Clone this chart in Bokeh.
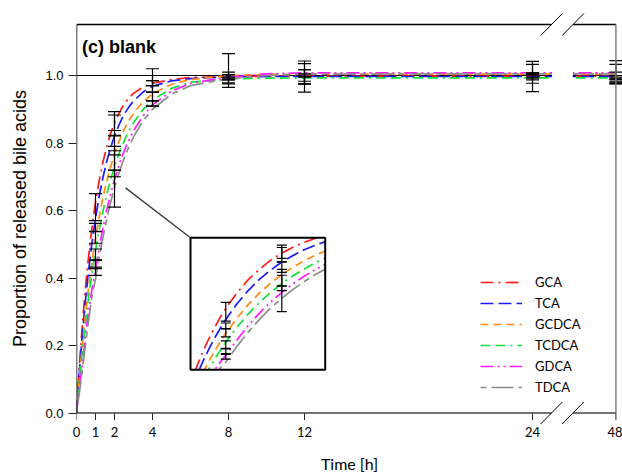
import numpy as np
from bokeh.plotting import figure
from bokeh.models import (ColumnDataSource, Range1d, FixedTicker, CustomJSTickFormatter,
                          NumeralTickFormatter, CustomJSTransform, Label, Legend, LegendItem)
from bokeh.transform import transform
from bokeh.embed import file_html
from bokeh.resources import INLINE

# ---------------- data ----------------
COMPOUNDS = ["GCA", "TCA", "GCDCA", "TCDCA", "GDCA", "TDCA"]
COLORS = ["#ff1a1a", "#1a1aff", "#ff8a14", "#14e03c", "#ff1aff", "#8c8c8c"]
DASHES = ["13 5 2 5", "13 5", "8 5", "10 5 10 5 2 5", "13 4 2 4 2 4", "6 5 22 5"]

# fitted release curves
T = [0, 0.1, 0.2, 0.3, 0.4, 0.5, 0.6, 0.7, 0.8, 0.9, 1.0, 1.2, 1.4, 1.6, 1.8, 2.0,
     2.2, 2.4, 2.6, 2.8, 3.0, 3.5, 4, 5, 6, 8, 10, 12, 24, 48]
GCA = [0, 0.093, 0.178, 0.255, 0.324, 0.387, 0.445, 0.496, 0.543, 0.586, 0.625, 0.690,
       0.746, 0.790, 0.829, 0.859, 0.884, 0.905, 0.922, 0.936, 0.947, 0.966, 0.977,
       0.988, 0.994, 0.997, 0.998, 0.998, 0.998, 0.998]
TCA = [0, 0.082, 0.158, 0.227, 0.291, 0.349, 0.403, 0.452, 0.497, 0.539, 0.577, 0.644,
       0.700, 0.747, 0.787, 0.821, 0.849, 0.873, 0.893, 0.910, 0.924, 0.951, 0.968,
       0.984, 0.991, 0.996, 0.997, 0.997, 0.997, 0.997]
GCDCA = [0, 0.070, 0.136, 0.197, 0.253, 0.306, 0.355, 0.400, 0.442, 0.482, 0.518, 0.583,
         0.640, 0.689, 0.731, 0.768, 0.799, 0.827, 0.850, 0.870, 0.888, 0.922, 0.946,
         0.974, 0.988, 1.000, 1.003, 1.004, 1.004, 1.004]
TCDCA = [0, 0.063, 0.123, 0.178, 0.230, 0.279, 0.325, 0.368, 0.408, 0.445, 0.481, 0.544,
         0.600, 0.649, 0.692, 0.730, 0.763, 0.792, 0.818, 0.840, 0.860, 0.899, 0.927,
         0.962, 0.980, 0.990, 0.992, 0.993, 0.993, 0.993]
GDCA = [0, 0.050, 0.095, 0.140, 0.190, 0.240, 0.285, 0.325, 0.362, 0.395, 0.425, 0.490,
        0.551, 0.604, 0.651, 0.692, 0.729, 0.761, 0.789, 0.814, 0.836, 0.880, 0.913,
        0.954, 0.977, 0.995, 1.005, 1.008, 1.008, 1.008]
TDCA = [0, 0.040, 0.080, 0.125, 0.170, 0.215, 0.260, 0.300, 0.340, 0.370, 0.396, 0.463,
        0.523, 0.577, 0.625, 0.667, 0.705, 0.738, 0.768, 0.794, 0.818, 0.865, 0.900,
        0.945, 0.970, 0.991, 1.000, 1.004, 1.005, 1.005]
CURVES = [GCA, TCA, GCDCA, TCDCA, GDCA, TDCA]

# measured means and standard deviations
BAR_T = [1, 2, 4, 8, 12, 24, 48]
GCA_MEAN = [0.610, 0.865, 0.995, 1.000, 0.997, 0.997, 1.000]
GCA_SD = [0.040, 0.028, 0.025, 0.010, 0.046, 0.045, 0.010]
TCA_MEAN = [0.550, 0.852, 0.985, 0.995, 0.990, 1.000, 0.985]
TCA_SD = [0.012, 0.031, 0.015, 0.008, 0.015, 0.008, 0.010]
GCDCA_MEAN = [0.520, 0.800, 0.968, 1.015, 1.005, 1.005, 1.010]
GCDCA_SD = [0.017, 0.023, 0.017, 0.050, 0.030, 0.028, 0.034]
TCDCA_MEAN = [0.470, 0.742, 0.955, 0.990, 0.985, 0.995, 0.985]
TCDCA_SD = [0.016, 0.023, 0.030, 0.012, 0.010, 0.008, 0.004]
GDCA_MEAN = [0.440, 0.710, 0.930, 0.995, 1.007, 1.005, 1.010]
GDCA_SD = [0.012, 0.010, 0.021, 0.008, 0.010, 0.003, 0.023]
TDCA_MEAN = [0.420, 0.700, 0.917, 0.985, 1.000, 1.000, 0.990]
TDCA_SD = [0.012, 0.090, 0.008, 0.010, 0.017, 0.005, 0.010]
MEANS = [GCA_MEAN, TCA_MEAN, GCDCA_MEAN, TCDCA_MEAN, GDCA_MEAN, TDCA_MEAN]
SDS = [GCA_SD, TCA_SD, GCDCA_SD, TCDCA_SD, GDCA_SD, TDCA_SD]

X_TICKS = [0, 1, 2, 4, 8, 12, 24, 48]
Y_TICKS = [0.0, 0.2, 0.4, 0.6, 0.8, 1.0]

# ---------------- broken x axis (24 .. 48 compressed) ----------------
BREAK_AT = 24.0
LATE_SCALE = 4.39 / 24.0


def ax(t):
    return t if t <= BREAK_AT else BREAK_AT + (t - BREAK_AT) * LATE_SCALE


brk = CustomJSTransform(args=dict(b=BREAK_AT, s=LATE_SCALE),
                        func="return x <= b ? x : b + (x - b) * s;",
                        v_func="return xs.map((x) => x <= b ? x : b + (x - b) * s);")

W, H = 622, 475
B_LEFT, B_RIGHT, B_TOP, B_BOTTOM = 76, 0, 11, 50
PX_X, PX_Y = 19.0, 337.5          # pixels per hour / per unit
Y0 = -12.5 / PX_Y                   # frame extends a bit below 0 for break marks
X0, X_END = 0.0, (W - B_LEFT - B_RIGHT) / PX_X
Y1 = Y0 + (H - B_TOP - B_BOTTOM) / PX_Y
Y_TOP = 1.151
GAP = (25.03, 26.12)
SLASH_X = (25.0, 26.13)
SLASH_DX, SLASH_DY = 0.57, 0.0326
TICK_LEN = 7 / PX_Y

# inset placement (main coordinates) and its view window
BOX = dict(left=6.0, right=13.09, bottom=0.128, top=0.519)
VIEW = dict(t0=0.37, t1=2.775, v0=0.363, v1=0.924)
POINTER = (2.58, 0.667)

p = figure(width=W, height=H, output_backend="svg", toolbar_location=None,
           x_range=Range1d(X0, X_END), y_range=Range1d(Y0, Y1),
           min_border_left=B_LEFT, min_border_right=B_RIGHT,
           min_border_top=B_TOP, min_border_bottom=B_BOTTOM)
p.outline_line_color = None
p.grid.visible = False
p.background_fill_color = "white"
p.border_fill_color = "white"

# axes
xa = p.xaxis[0]
xa.ticker = FixedTicker(ticks=[ax(t) for t in X_TICKS])
xa.formatter = CustomJSTickFormatter(args=dict(b=BREAK_AT, s=LATE_SCALE),
                                     code="const t = tick <= b ? tick : b + (tick - b) / s; return String(Math.round(t));")
xa.axis_line_color = None
xa.major_tick_out = 0
xa.major_tick_in = 0
xa.major_tick_line_color = None
xa.minor_tick_line_color = None
xa.major_label_standoff = 1
xa.major_label_text_font = "Lato"
xa.major_label_text_font_size = "13px"
xa.major_label_text_color = "black"
xa.axis_label = "Time [h]"
xa.axis_label_standoff = 14
xa.axis_label_text_font = "Lato"
xa.axis_label_text_font_size = "16px"
xa.axis_label_text_font_style = "normal"
xa.axis_label_text_color = "black"

ya = p.yaxis[0]
ya.ticker = FixedTicker(ticks=Y_TICKS)
ya.formatter = NumeralTickFormatter(format="0.0")
ya.axis_line_color = None
ya.major_tick_out = 8
ya.major_tick_in = 0
ya.minor_tick_line_color = None
ya.major_tick_line_color = "#222222"
ya.major_label_standoff = 5
ya.major_label_text_font = "Liberation Sans"
ya.major_label_text_font_size = "13px"
ya.major_label_text_color = "black"
ya.axis_label = "Proportion of released bile acids"
ya.axis_label_standoff = 12
ya.axis_label_text_font = "Liberation Sans"
ya.axis_label_text_font_size = "18px"
ya.axis_label_text_font_style = "normal"
ya.axis_label_text_color = "black"

# x tick marks (drawn below the axis line, inside the frame)
xt = [ax(t) for t in X_TICKS]
p.segment(x0=xt, y0=[0] * len(xt), x1=xt, y1=[-TICK_LEN] * len(xt),
          line_color="#222222", line_width=1)

# reference line at 1.0
p.segment(x0=[0], y0=[1.0], x1=[ax(48)], y1=[1.0], line_color="black", line_width=1)

# main curves
src = ColumnDataSource(dict(t=T, **{c: v for c, v in zip(COMPOUNDS, CURVES)}))
renderers = []
for c, col, dash in zip(COMPOUNDS, COLORS, DASHES):
    r = p.line(x=transform("t", brk), y=c, source=src, line_color=col,
               line_dash=dash, line_width=1.7)
    renderers.append(r)

# error bars
bt, lo, hi = [], [], []
for m, s in zip(MEANS, SDS):
    for t, mv, sv in zip(BAR_T, m, s):
        bt.append(t)
        lo.append(mv - sv)
        hi.append(mv + sv)
bars = ColumnDataSource(dict(t=bt, lower=lo, upper=hi))
p.segment(x0=transform("t", brk), x1=transform("t", brk), y0="lower", y1="upper",
          source=bars, line_color="black", line_width=1.2)
p.scatter(x=transform("t", brk), y="upper", source=bars, marker="dash", size=13,
          line_color="black", line_width=1.2)
p.scatter(x=transform("t", brk), y="lower", source=bars, marker="dash", size=13,
          line_color="black", line_width=1.2)

# axis break gap
p.quad(left=[GAP[0]], right=[GAP[1]], bottom=[0.9], top=[1.1], fill_color="white", line_color=None)

# ---------------- inset (magnified view on extra ranges) ----------------
sx = (BOX["right"] - BOX["left"]) / (VIEW["t1"] - VIEW["t0"])
sy = (BOX["top"] - BOX["bottom"]) / (VIEW["v1"] - VIEW["v0"])
p.extra_x_ranges = {"ix": Range1d(VIEW["t0"] - (BOX["left"] - X0) / sx,
                                  VIEW["t0"] + (X_END - BOX["left"]) / sx)}
p.extra_y_ranges = {"iy": Range1d(VIEW["v0"] - (BOX["bottom"] - Y0) / sy,
                                  VIEW["v0"] + (Y1 - BOX["bottom"]) / sy)}

T_arr = np.array(T)
for c, vals, col, dash in zip(COMPOUNDS, CURVES, COLORS, DASHES):
    v = np.array(vals)
    keep = (T_arr >= 0.2) & (T_arr <= 3.0) & (v >= 0.25) & (v <= 0.98)
    isrc = ColumnDataSource(dict(t=T_arr[keep], v=v[keep]))
    p.line(x="t", y="v", source=isrc, line_color=col, line_dash=dash, line_width=1.7,
           x_range_name="ix", y_range_name="iy")

bt_arr = np.array(bt)
sel = (bt_arr >= VIEW["t0"]) & (bt_arr <= VIEW["t1"])
ibars = ColumnDataSource(dict(t=bt_arr[sel], lower=np.array(lo)[sel], upper=np.array(hi)[sel]))
p.segment(x0="t", x1="t", y0="lower", y1="upper", source=ibars, line_color="black",
          line_width=1.2, x_range_name="ix", y_range_name="iy")
for fld in ("upper", "lower"):
    p.scatter(x="t", y=fld, source=ibars, marker="dash", size=10, line_color="black",
              line_width=1.2, x_range_name="ix", y_range_name="iy")

# white masks trimming inset curves to the box
ml, mr, mb, mt = 1.2, 1.3, 0.12, 0.06
p.quad(left=[BOX["left"] - ml, BOX["right"], BOX["left"] - ml, BOX["left"] - ml],
       right=[BOX["left"], BOX["right"] + mr, BOX["right"] + mr, BOX["right"] + mr],
       bottom=[BOX["bottom"] - mb, BOX["bottom"] - mb, BOX["top"], BOX["bottom"] - mb],
       top=[BOX["top"] + mt, BOX["top"] + mt, BOX["top"] + mt, BOX["bottom"]],
       fill_color="white", line_color=None)
p.quad(left=[BOX["left"]], right=[BOX["right"]], bottom=[BOX["bottom"]], top=[BOX["top"]],
       fill_color=None, line_color="black", line_width=2)
p.segment(x0=[POINTER[0]], y0=[POINTER[1]], x1=[BOX["left"]], y1=[BOX["top"]],
          line_color="#3a3a3a", line_width=1.3)

# ---------------- frame lines with break marks ----------------
xr = ax(48)
p.segment(x0=[0], y0=[0], x1=[0], y1=[Y_TOP], line_color="black", line_width=1.5)
p.segment(x0=[0, SLASH_X[1]], y0=[Y_TOP, Y_TOP], x1=[SLASH_X[0], xr], y1=[Y_TOP, Y_TOP],
          line_color="black", line_width=1.5)
p.segment(x0=[0, SLASH_X[1]], y0=[0, 0], x1=[SLASH_X[0], xr], y1=[0, 0],
          line_color="#444444", line_width=1.5)
p.segment(x0=[xr], y0=[0], x1=[xr], y1=[Y_TOP], line_color="#808080", line_width=1.5)
sx0, sy0, sx1, sy1 = [], [], [], []
for yb in (0.0, Y_TOP):
    for xc in SLASH_X:
        sx0.append(xc - SLASH_DX); sy0.append(yb - SLASH_DY)
        sx1.append(xc + SLASH_DX); sy1.append(yb + SLASH_DY)
p.segment(x0=sx0, y0=sy0, x1=sx1, y1=sy1, line_color="black", line_width=1)

# ---------------- texts ----------------
p.add_layout(Label(x=0.29, y=1.084, text="(c) blank", text_font="Liberation Sans",
                   text_font_style="bold", text_font_size="18px", text_color="black",
                   text_baseline="alphabetic"))

legend = Legend(items=[LegendItem(label=c, renderers=[r]) for c, r in zip(COMPOUNDS, renderers)],
                location=(404, 30))
legend.glyph_width = 42
legend.glyph_height = 16
legend.label_height = 16
legend.spacing = 5
legend.padding = 0
legend.margin = 0
legend.label_standoff = 13
legend.border_line_color = None
legend.background_fill_alpha = 0
legend.label_text_font = "Lato"
legend.label_text_font_size = "13px"
legend.label_text_color = "black"
p.add_layout(legend)

open("out.html", "w").write(file_html(p, INLINE))
